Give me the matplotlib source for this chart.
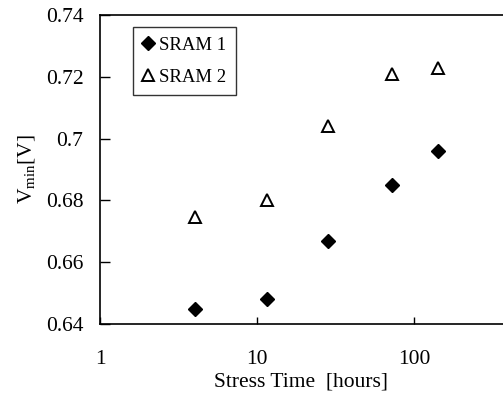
import numpy as np
import matplotlib
matplotlib.use("Agg")
import matplotlib.pyplot as plt

plt.rcParams['font.family'] = ['Liberation Serif', 'DejaVu Serif']
plt.rcParams['mathtext.fontset'] = 'custom'
plt.rcParams['mathtext.rm'] = 'Liberation Serif'
plt.rcParams['mathtext.it'] = 'Liberation Serif:italic'

# stress time in hours
hours = [4, 11.6, 28.3, 72.5, 142]
sram1 = [0.645, 0.648, 0.667, 0.685, 0.696]
sram2 = [0.6745, 0.680, 0.704, 0.721, 0.723]

fig = plt.figure(figsize=(5.03, 4.03), dpi=100)
ax = fig.add_axes([100/503, 79/403, 403/503, 309/403])

ax.plot(hours, sram1, linestyle='none', marker='D', ms=6.8, color='black',
        label='SRAM 1')
ax.plot(hours, sram2, linestyle='none', marker='^', ms=9, mfc='white',
        mec='black', mew=1.4, label='SRAM 2')

ax.set_xscale('log')
ax.set_xlim(1, 10 ** (403 / 157))
ax.set_ylim(0.64, 0.74)
ax.set_xticks([1, 10, 100])
ax.set_xticklabels(['1', '10', '100'])
ax.minorticks_off()
ax.set_yticks([0.64, 0.66, 0.68, 0.70, 0.72, 0.74])
ax.set_yticklabels(['0.64', '0.66', '0.68', '0.7', '0.72', '0.74'])
ax.tick_params(axis='y', direction='in', length=7, width=1, pad=12, labelsize=15.5)
ax.tick_params(axis='x', direction='in', length=5, width=1, pad=19, labelsize=15.5)
for s in ax.spines.values():
    s.set_linewidth(1.2)
ax.spines['right'].set_visible(False)

ax.set_xlabel('Stress Time  [hours]', fontsize=15.5, labelpad=2)
ax.set_ylabel(r'V$_{\rm min}$[V]', fontsize=15.5, labelpad=6)

leg = ax.legend(loc='upper left', bbox_to_anchor=(33/403, 0.96), fontsize=13.5,
                frameon=True, fancybox=False, edgecolor='black',
                handlelength=0.6, handletextpad=0.3, borderpad=0.5,
                labelspacing=0.8, borderaxespad=0)
leg.get_frame().set_linewidth(1.0)

fig.savefig('out.png', dpi=100)
